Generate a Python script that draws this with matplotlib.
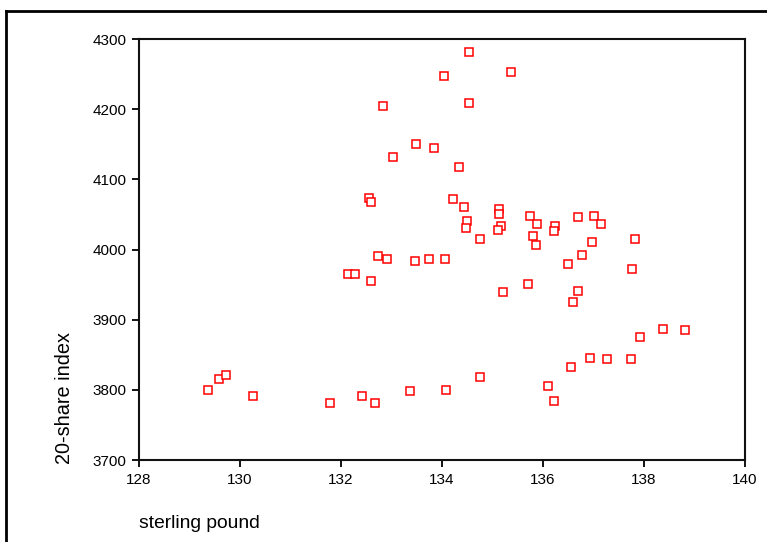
import matplotlib
matplotlib.use("Agg")
import matplotlib.pyplot as plt
from matplotlib.lines import Line2D

sterling = [134.53, 135.36, 134.03, 134.53, 132.83, 133.49, 133.84, 133.02, 134.34,
            132.56, 132.60, 134.22, 134.44, 135.13, 135.13, 134.50, 134.47, 135.16,
            135.10, 135.74, 135.89, 136.24, 136.21, 136.69, 137.00, 137.14, 134.75,
            135.80, 135.86, 136.97, 137.83,
            134.05, 136.78, 136.50, 137.76, 135.70, 135.20, 136.69, 136.59, 132.14,
            132.28, 132.73, 132.92, 132.60, 133.46, 133.74,
            138.37, 138.81, 137.92, 136.94, 137.26, 137.74, 136.55, 134.75, 134.07,
            136.10, 136.21, 129.37, 129.59, 129.72, 130.26, 131.78, 132.42, 132.67,
            133.36]
index20 = [4281, 4253, 4247, 4209, 4204, 4150, 4144, 4132, 4118,
           4074, 4068, 4072, 4060, 4058, 4050, 4040, 4030, 4034,
           4028, 4048, 4036, 4034, 4026, 4046, 4048, 4036, 4015,
           4019, 4007, 4011, 4015,
           3986, 3992, 3980, 3972, 3951, 3939, 3941, 3925, 3965,
           3965, 3991, 3987, 3955, 3983, 3987,
           3887, 3885, 3875, 3846, 3844, 3844, 3833, 3818, 3800,
           3806, 3784, 3800, 3816, 3821, 3791, 3781, 3791, 3781,
           3798]

xticks = [128, 130, 132, 134, 136, 138, 140]
yticks = [3700, 3800, 3900, 4000, 4100, 4200, 4300]

fig = plt.figure(figsize=(7.67, 5.42), dpi=100)
ax = fig.add_axes([139/767, 1-460/542, (745-139)/767, (460-39)/542])

ax.plot(sterling, index20, linestyle='none', marker='s', markersize=5.5,
        markerfacecolor='white', markeredgecolor='#ff0000', markeredgewidth=1.1)

ax.set_xlim(128, 140)
ax.set_ylim(3700, 4300)
ax.set_xticks(xticks)
ax.set_yticks(yticks)
tickfont = dict(family=['Liberation Sans Narrow', 'Liberation Sans', 'DejaVu Sans'], size=11)
ax.set_xticklabels([str(t) for t in xticks], **tickfont)
ax.set_yticklabels([str(t) for t in yticks], **tickfont)
ax.tick_params(direction='out', length=5, width=1.3, top=False, right=False, pad=4)
for s in ax.spines.values():
    s.set_linewidth(1.5)
    s.set_color('#111111')

fig.text(64/767, 1-464/542, '20-share index', family=['Liberation Sans', 'DejaVu Sans'],
         size=14.3, rotation=90, ha='center', va='bottom')
fig.text(139/767, 1-523/542, 'sterling pound', family=['Liberation Sans', 'DejaVu Sans'],
         size=13.9, ha='left', va='center')

# figure border (left and top edges)
fig.add_artist(Line2D([6/767, 6/767], [0, 1-11/542], transform=fig.transFigure, color='black', lw=2))
fig.add_artist(Line2D([6/767, 1], [1-11/542, 1-11/542], transform=fig.transFigure, color='black', lw=2))

fig.savefig('out.png', dpi=100)
